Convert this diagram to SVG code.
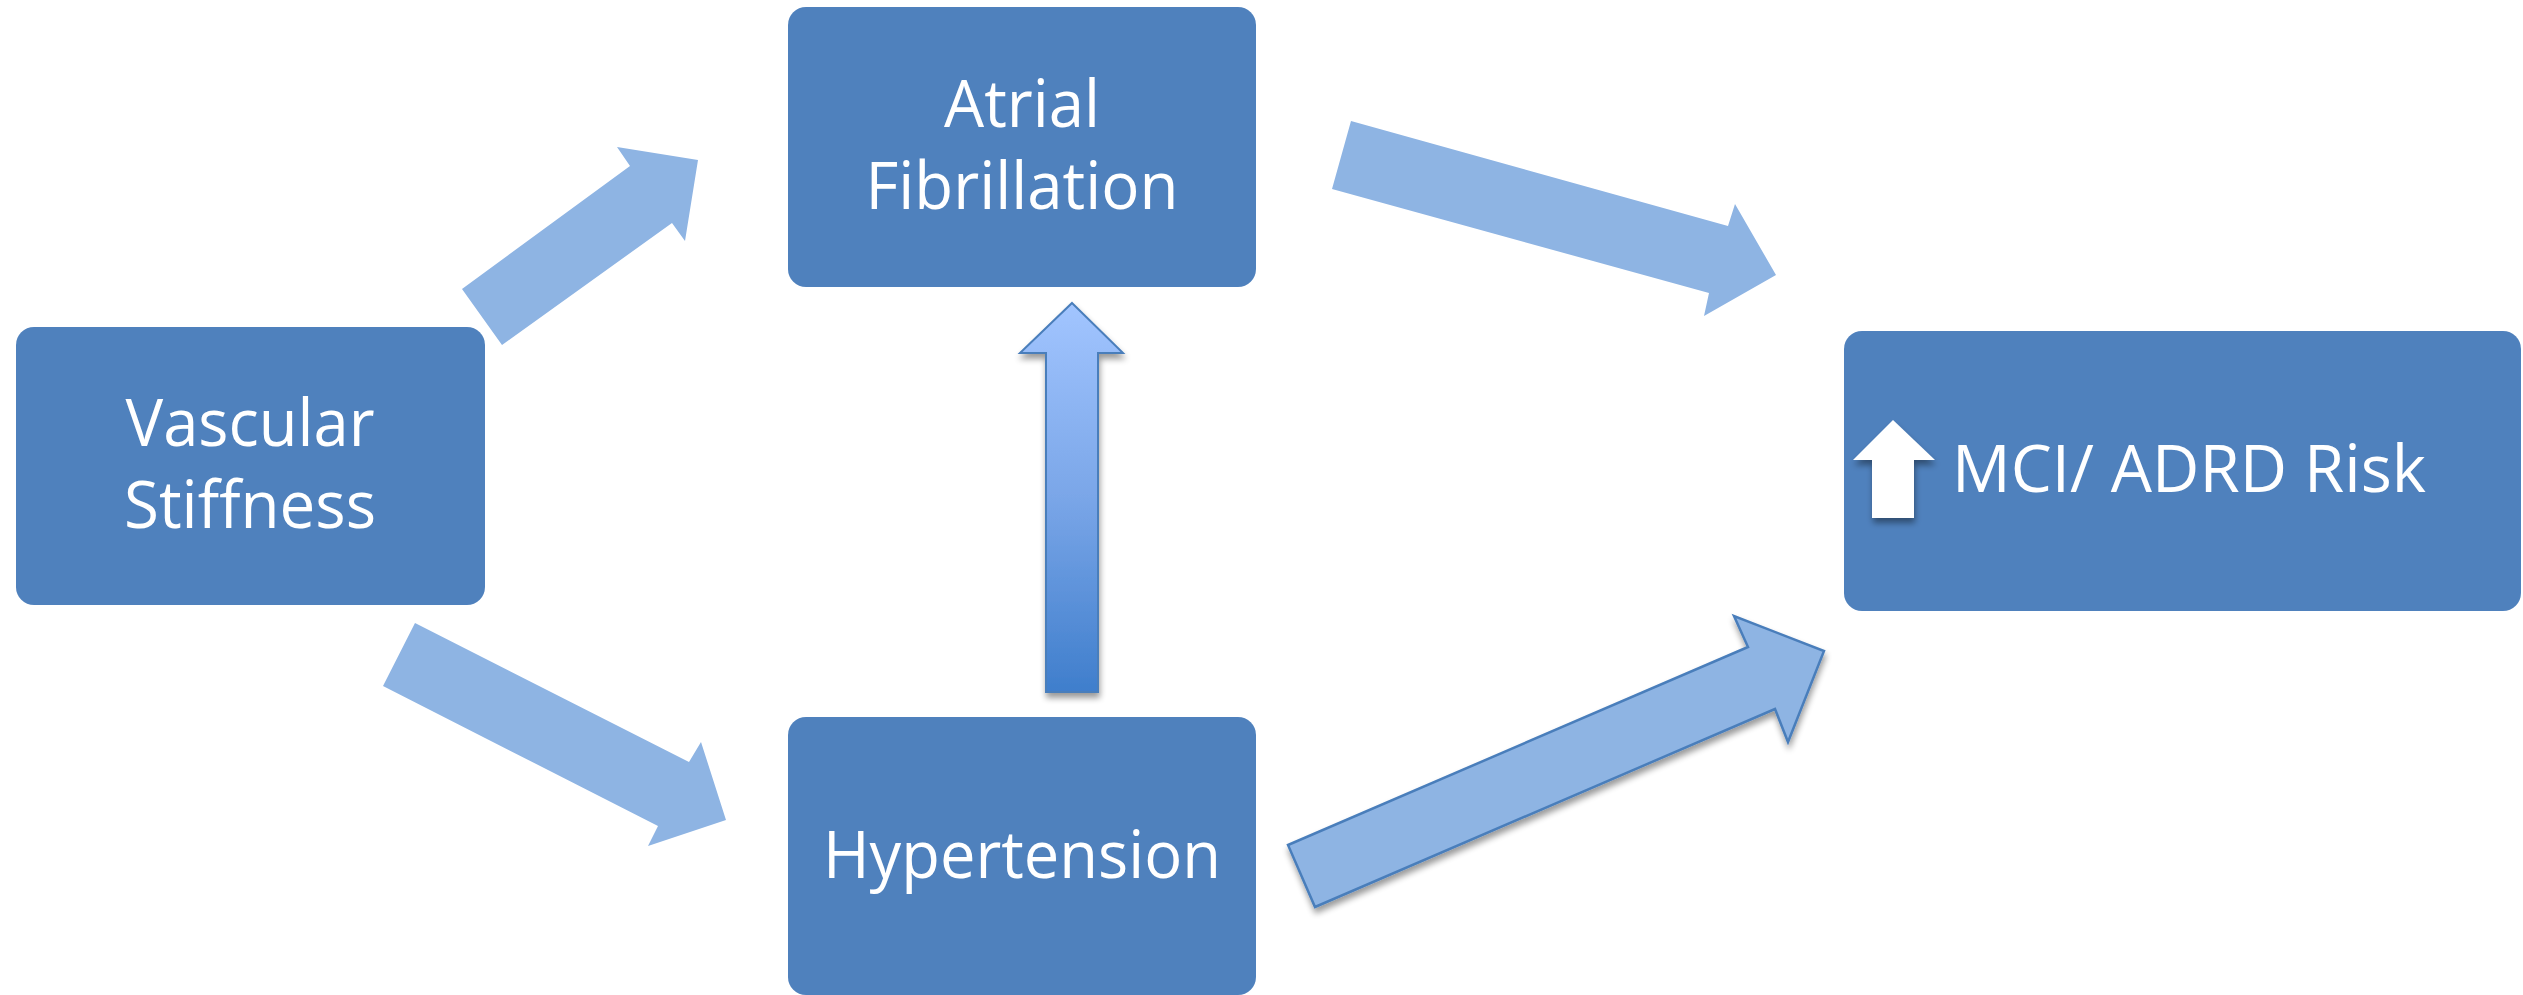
<svg xmlns="http://www.w3.org/2000/svg" width="2523" height="995" viewBox="0 0 2523 995">
<style>
.box{fill:#4F81BD;}
.lbl{fill:#FFFFFF;font-family:"Open Sans","Liberation Sans",sans-serif;font-size:66px;}
.c{text-anchor:middle;}
.arr{fill:#8EB4E3;}
.arrs{fill:#8EB4E3;stroke:#4A7EBB;stroke-width:2.5;stroke-linejoin:miter;}
</style>
<defs>
<linearGradient id="vgrad" x1="0" y1="0" x2="0" y2="1">
<stop offset="0" stop-color="#A2C5FF"/>
<stop offset="0.5" stop-color="#7AA6E8"/>
<stop offset="1" stop-color="#3F7ECC"/>
</linearGradient>
<filter id="sh" x="-20%" y="-20%" width="140%" height="140%">
<feGaussianBlur in="SourceAlpha" stdDeviation="3"/>
<feOffset dx="1" dy="5" result="b"/>
<feComponentTransfer><feFuncA type="linear" slope="0.4"/></feComponentTransfer>
<feMerge><feMergeNode/><feMergeNode in="SourceGraphic"/></feMerge>
</filter>
</defs>
<rect width="2523" height="995" fill="#FFFFFF"/>
<g id="connectors">
<polygon class="arr" points="462,289 630,166 617,147 698,160 685,241 672,223 502,345"/>
<polygon class="arr" points="415,623 689,762 701,742 726,820 648,846 658,826 383,686"/>
<polygon class="arr" points="1351,121 1728,226 1735,204 1776,275 1704,316 1709,293 1332,189"/>
<polygon class="arrs" filter="url(#sh)" points="1288,845 1748,647 1734,616 1824,651 1788,742 1775,709 1315,907"/>
<polygon filter="url(#sh)" fill="url(#vgrad)" stroke="#4A7EBB" stroke-width="2" points="1072,303 1123,353 1098,353 1098,692 1046,692 1046,353 1020,353"/>
</g>
<g id="vascular">
<rect class="box" x="16" y="327" width="469" height="278" rx="18" ry="18"/>
<text class="lbl c" x="250" y="446" textLength="249" lengthAdjust="spacingAndGlyphs">Vascular</text>
<text class="lbl c" x="250" y="528" textLength="252" lengthAdjust="spacingAndGlyphs">Stiffness</text>
</g>
<g id="atrial">
<rect class="box" x="788" y="7" width="468" height="280" rx="18" ry="18"/>
<text class="lbl c" x="1022" y="127" textLength="156" lengthAdjust="spacingAndGlyphs">Atrial</text>
<text class="lbl c" x="1022" y="209" textLength="313" lengthAdjust="spacingAndGlyphs">Fibrillation</text>
</g>
<g id="hypertension">
<rect class="box" x="788" y="717" width="468" height="278" rx="18" ry="18"/>
<text class="lbl c" x="1022" y="878" textLength="398" lengthAdjust="spacingAndGlyphs">Hypertension</text>
</g>
<g id="mci">
<rect class="box" x="1844" y="331" width="677" height="280" rx="18" ry="18"/>
<polygon fill="#FFFFFF" filter="url(#sh)" points="1893,420 1935,460 1914,460 1914,518 1872,518 1872,460 1853,460"/>
<text class="lbl" x="1952" y="492" textLength="474" lengthAdjust="spacingAndGlyphs">MCI/ ADRD Risk</text>
</g>
</svg>
